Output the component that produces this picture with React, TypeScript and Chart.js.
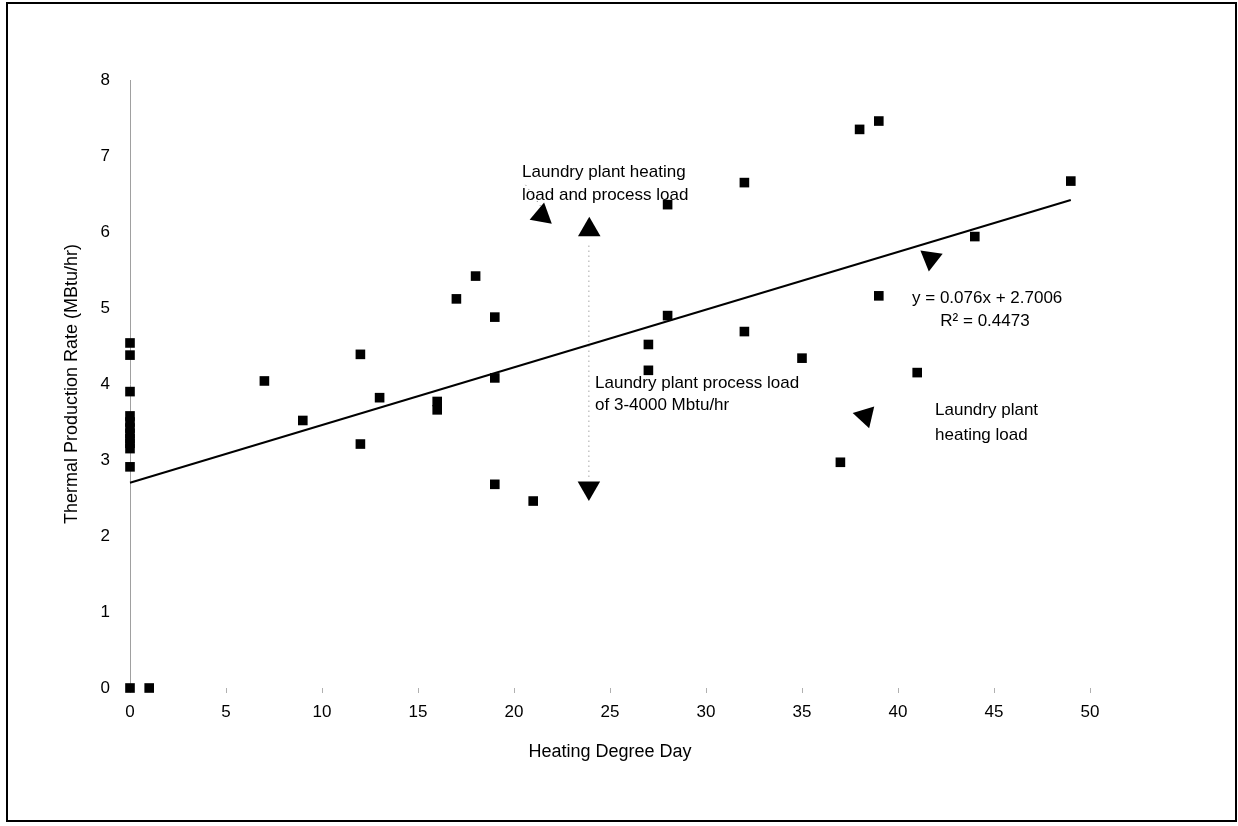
import React, { useEffect, useRef } from "react";
import { Chart, registerables } from "chart.js";

Chart.register(...registerables);

// Heating degree day (x) and thermal production rate in MBtu/hr (y)
const hddX = [
  0, 1,
  0, 0, 0, 0, 0, 0, 0, 0, 0, 0, 0,
  7, 9, 12, 12, 13, 16, 16,
  17, 18, 19, 19, 19, 21,
  27, 27, 28, 28, 32, 32,
  35, 37, 38, 39, 39, 41, 44, 49,
];
const rateY = [
  0, 0,
  4.54, 4.38, 3.9, 3.58, 3.5, 3.42, 3.35, 3.28, 3.22, 3.15, 2.91,
  4.04, 3.52, 4.39, 3.21, 3.82, 3.77, 3.66,
  5.12, 5.42, 4.88, 4.08, 2.68, 2.46,
  4.52, 4.18, 6.36, 4.9, 6.65, 4.69,
  4.34, 2.97, 7.35, 7.46, 5.16, 4.15, 5.94, 6.67,
];

// Linear trend line end points (y = 0.076x + 2.7006)
const trendX = [0, 49];
const trendY = [2.7, 6.42];

// Arrow heads
const arrowX = [21.45, 23.92, 23.9, 41.7, 38.3];
const arrowY = [6.22, 6.03, 2.63, 5.65, 3.58];
const arrowRotation = [10, 0, 180, 188, 283];

// Tick labels
const xTicks = [0, 5, 10, 15, 20, 25, 30, 35, 40, 45, 50];
const yTicks = [0, 1, 2, 3, 4, 5, 6, 7, 8];

// Notes
const noteText = [
  "Laundry plant heating",
  "load and process load",
  "Laundry plant process load",
  "of 3-4000 Mbtu/hr",
  "y = 0.076x + 2.7006",
  "R² = 0.4473",
  "Laundry plant",
  "heating load",
];
const noteX = [20.42, 20.42, 24.22, 24.22, 40.73, 44.53, 41.93, 41.93];
const noteY = [6.78, 6.48, 4.01, 3.72, 5.13, 4.82, 3.66, 3.33];
const noteAlign = ["left", "left", "left", "left", "left", "center", "left", "left"];

// Dotted leader lines
const leaderX = [
  [20.6, 21.5],
  [23.9, 23.9],
];
const leaderY = [
  [6.62, 6.3],
  [5.82, 2.76],
];

const FONT = "'Liberation Sans', Arial, Helvetica, sans-serif";

const notesPlugin = {
  id: "notes",
  beforeDraw(chart: any) {
    const { ctx, width, height } = chart;
    ctx.save();
    ctx.fillStyle = "#ffffff";
    ctx.fillRect(0, 0, width, height);
    ctx.restore();
  },
  afterDatasetsDraw(chart: any) {
    const { ctx } = chart;
    const xs = chart.scales.x;
    const ys = chart.scales.y;
    ctx.save();
    // leaders
    ctx.strokeStyle = "#7a7a7a";
    ctx.lineWidth = 1;
    ctx.setLineDash([1, 4]);
    leaderX.forEach((lx, i) => {
      ctx.beginPath();
      ctx.moveTo(xs.getPixelForValue(lx[0]), ys.getPixelForValue(leaderY[i][0]));
      ctx.lineTo(xs.getPixelForValue(lx[1]), ys.getPixelForValue(leaderY[i][1]));
      ctx.stroke();
    });
    ctx.setLineDash([]);
    // texts
    ctx.fillStyle = "#000";
    ctx.font = `17px ${FONT}`;
    ctx.textBaseline = "middle";
    noteText.forEach((t, i) => {
      ctx.textAlign = noteAlign[i] as CanvasTextAlign;
      ctx.fillText(t, xs.getPixelForValue(noteX[i]), ys.getPixelForValue(noteY[i]));
    });
    ctx.restore();
  },
  afterDraw(chart: any) {
    const { ctx } = chart;
    ctx.save();
    ctx.strokeStyle = "#000";
    ctx.lineWidth = 2;
    ctx.strokeRect(7, 3, 1229, 818);
    ctx.restore();
  },
};

export default function App() {
  const ref = useRef<HTMLCanvasElement | null>(null);

  useEffect(() => {
    if (!ref.current) return;
    const points = hddX.map((x, i) => ({ x, y: rateY[i] }));
    const trend = trendX.map((x, i) => ({ x, y: trendY[i] }));
    const arrows = arrowX.map((x, i) => ({ x, y: arrowY[i] }));

    const chart = new Chart(ref.current, {
      type: "scatter",
      data: {
        datasets: [
          {
            type: "line",
            label: "Trend",
            data: trend,
            borderColor: "#000",
            borderWidth: 2,
            pointRadius: 0,
            fill: false,
          } as any,
          {
            label: "Thermal production",
            data: points,
            pointStyle: "rect",
            pointRadius: 6.8,
            backgroundColor: "#000",
            borderColor: "#000",
            borderWidth: 0,
          },
          {
            label: "Arrows",
            data: arrows,
            pointStyle: "triangle",
            pointRadius: 13,
            pointRotation: arrowRotation,
            backgroundColor: "#000",
            borderColor: "#000",
            borderWidth: 0,
          } as any,
        ],
      },
      options: {
        responsive: false,
        animation: false,
        clip: false as any,
        layout: { padding: { top: 80, right: 148, left: 0, bottom: 0 } },
        plugins: {
          legend: { display: false },
          tooltip: { enabled: false },
        },
        scales: {
          x: {
            type: "linear",
            min: 0,
            max: 50,
            afterBuildTicks: (s: any) => {
              s.ticks = xTicks.map((v) => ({ value: v }));
            },
            afterFit: (s: any) => {
              s.height = 138;
            },
            grid: {
              display: true,
              drawOnChartArea: false,
              drawTicks: true,
              tickLength: 5,
              color: "#b0b0b0",
            },
            border: { display: false },
            ticks: {
              padding: 9,
              color: "#000",
              font: { family: FONT, size: 17 },
              maxRotation: 0,
              autoSkip: false,
            },
            title: {
              display: true,
              text: "Heating Degree Day",
              color: "#000",
              font: { family: FONT, size: 18 },
              padding: { top: 0, bottom: 63 },
            },
          },
          y: {
            type: "linear",
            min: 0,
            max: 8,
            afterBuildTicks: (s: any) => {
              s.ticks = yTicks.map((v) => ({ value: v }));
            },
            afterFit: (s: any) => {
              s.width = 130;
            },
            grid: { display: false, drawTicks: false },
            border: { display: true, color: "#a0a0a0", width: 1, dash: [1, 5] },
            ticks: {
              padding: 20,
              color: "#000",
              font: { family: FONT, size: 17 },
              autoSkip: false,
            },
            title: {
              display: true,
              text: "Thermal Production Rate (MBtu/hr)",
              color: "#000",
              font: { family: FONT, size: 18 },
              padding: { top: 61, bottom: 0 },
            },
          },
        },
      },
      plugins: [notesPlugin],
    });
    return () => chart.destroy();
  }, []);

  return (
    <div style={{ position: "fixed", left: 0, top: 0, width: 1238, height: 826 }}>
      <canvas ref={ref} width={1238} height={826} />
    </div>
  );
}
